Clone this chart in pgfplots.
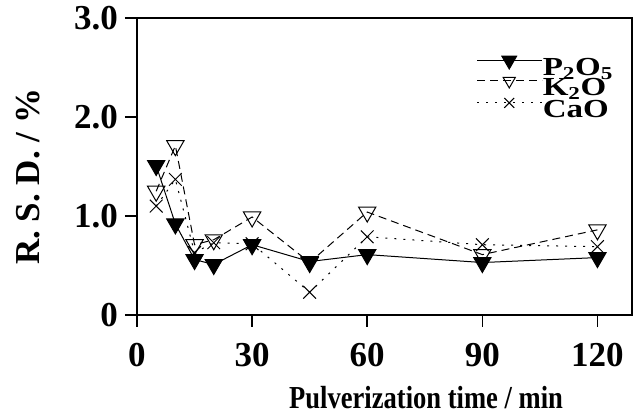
\documentclass[border=0pt]{standalone}
\usepackage{fontspec}
\setmainfont{Liberation Serif}
\usepackage{pgfplots}
\pgfplotsset{compat=1.18}
\newcommand{\legtext}[1]{\scalebox{1.27}[1]{#1}}
\begin{document}
\begin{tikzpicture}
% fixed page frame around the 495pt x 297pt plot area
\path[use as bounding box] (-137pt,-102pt) rectangle (504pt,315pt);
\begin{axis}[
  at={(0pt,0pt)}, anchor=south west,
  scale only axis,
  width=495pt, height=297pt,
  xmin=0, xmax=129, ymin=0, ymax=3,
  xtick={0,30,60,90,120},
  ytick={0,1,2,3},
  yticklabels={0,1.0,2.0,3.0},
  tick align=outside,
  xtick pos=bottom, ytick pos=left,
  major tick length=12pt,
  axis line style={line width=1.6pt},
  every tick/.style={line width=1.5pt, black},
  tick label style={font=\fontsize{35}{36}\selectfont\bfseries, inner sep=0pt},
  xticklabel style={yshift=-16pt},
  yticklabel style={xshift=-7pt},
  /pgf/number format/assume math mode=true,
  xlabel={\scalebox{0.83}[1]{Pulverization time / min}},
  ylabel={R. S. D. / \%},
  xlabel style={font=\fontsize{32}{34}\selectfont\bfseries,
    at={(axis description cs:0.584,0)}, anchor=center, yshift=-83pt},
  ylabel style={font=\fontsize{35}{36}\selectfont\bfseries,
    at={(axis description cs:-0.22,0.465)}, anchor=center},
  clip=false,
  legend cell align=left,
  legend style={draw=none, fill=none, at={(0.962,0.872)}, anchor=north east,
    font=\fontsize{26}{27}\selectfont\bfseries, row sep=-2pt, column sep=0pt,
    inner sep=0pt, nodes={inner sep=0pt, text height=17pt, text depth=4pt}},
  legend image code/.code={\draw[mark repeat=2,mark phase=2,#1]
    plot coordinates {(0pt,8.5pt) (32pt,8.5pt) (65pt,8.5pt)};},
]
% P2O5
\addplot[black, line width=1pt, mark=triangle*, mark size=10pt,
  mark options={rotate=180, solid, fill=black},
  legend image post style={mark size=8.5pt}]
  coordinates {(5,1.51) (10,0.92) (15,0.56) (20,0.51) (30,0.71)
               (45,0.54) (60,0.61) (90,0.53) (120,0.58)};
\addlegendentry{\legtext{P$_\mathbf{2}$O$_\mathbf{5}$}}
% K2O
\addplot[black, line width=1pt, dash pattern=on 8pt off 5pt,
  mark=triangle, mark size=10pt, mark options={rotate=180, solid, fill=white},
  legend image post style={mark size=7pt}]
  coordinates {(5,1.25) (10,1.71) (15,0.71) (20,0.76) (30,0.99)
               (45,0.53) (60,1.04) (90,0.61) (120,0.86)};
\addlegendentry{\legtext{K$_\mathbf{2}$O}}
% CaO
\addplot[black, line width=1pt, dash pattern=on 2pt off 7pt,
  mark=x, mark size=9pt, mark options={solid},
  legend image post style={mark size=7pt}]
  coordinates {(5,1.10) (10,1.37) (15,0.63) (20,0.73) (30,0.72)
               (45,0.23) (60,0.79) (90,0.71) (120,0.69)};
\addlegendentry{\legtext{CaO}}
\end{axis}
\end{tikzpicture}
\end{document}
